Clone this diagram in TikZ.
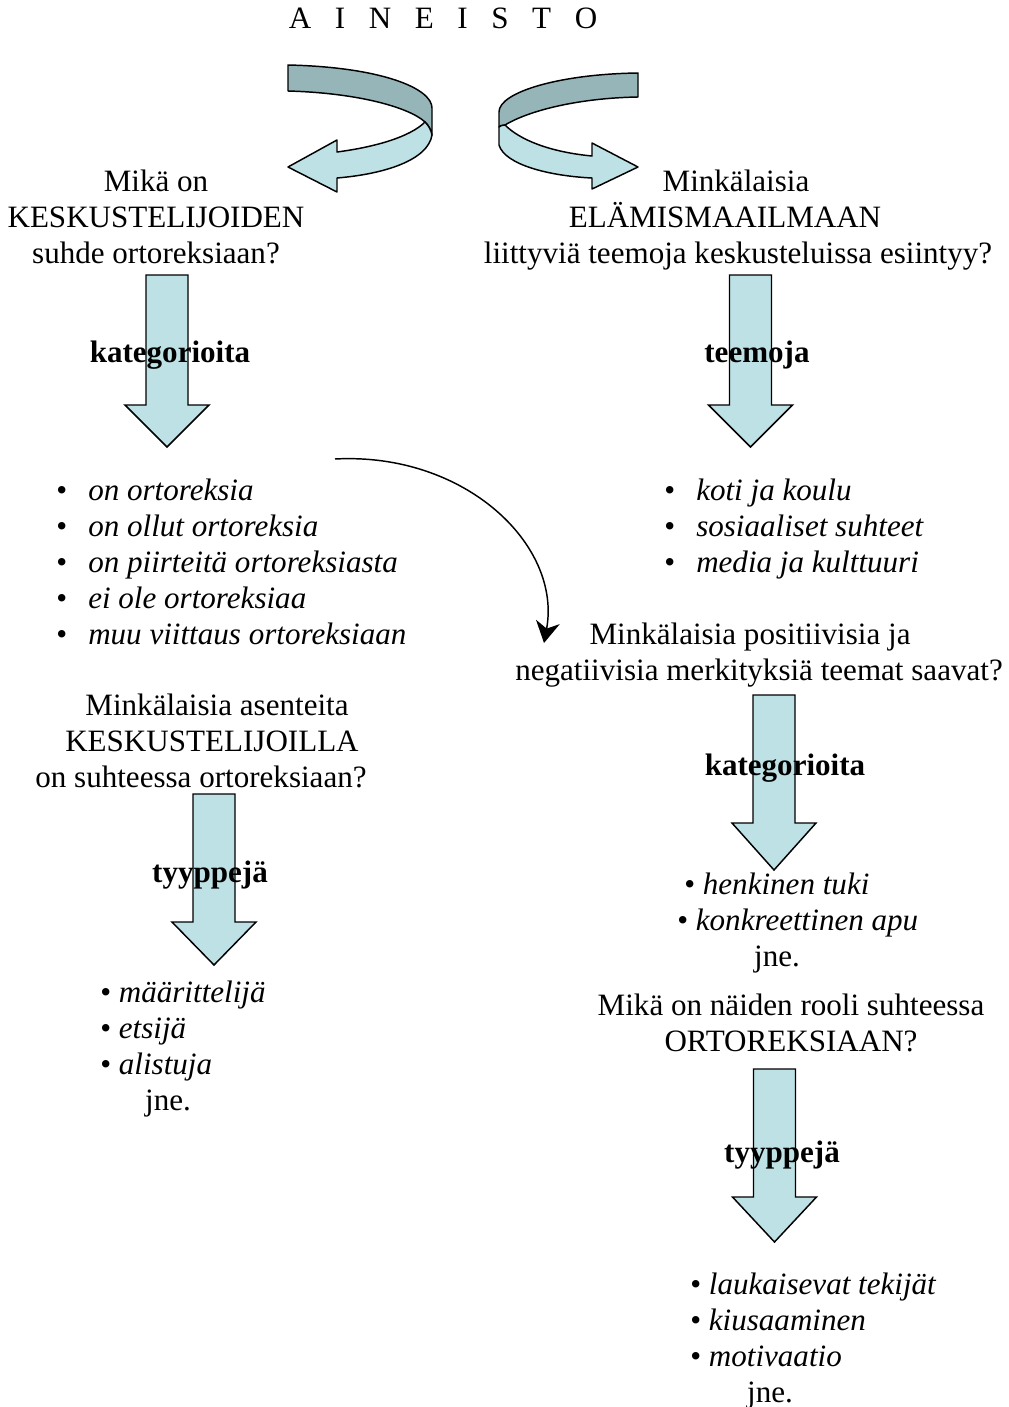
\documentclass[tikz,border=0pt]{standalone}
\usepackage{fontspec}
\setmainfont{Liberation Serif}
\usetikzlibrary{arrows.meta}
\definecolor{lightband}{RGB}{189,225,229}
\definecolor{darkband}{RGB}{150,181,184}
\tikzset{
 txt/.style={anchor=base, inner sep=0pt, font=\fontsize{23.3}{27}\selectfont},
 txtw/.style={txt, anchor=base west},
 lbl/.style={txt, font=\fontsize{23.3}{27}\selectfont\bfseries},
 band/.style={draw=black, line width=1.1pt, line join=round},
 blockarrow/.style={draw=black, line width=1.1pt, fill=lightband, line join=miter},
 link/.style={line width=1.1pt, -{Stealth[length=16pt,width=18pt,inset=5pt,fill=black]}}
}
\newcommand\bul[1]{\makebox[24pt][l]{\textbullet}\textit{#1}}
\newcommand\sbul[1]{\textbullet\ \textit{#1}}
\newcommand\barrow[4]{%
 \draw[blockarrow] (#1-21,#2) -- (#1+21,#2) -- (#1+21,#3) -- (#1+42,#3) -- (#1,#4) -- (#1-42,#3) -- (#1-21,#3) -- cycle;}
\begin{document}
\begin{tikzpicture}[x=0.75pt,y=-0.75pt]
\useasboundingbox (0,0) rectangle (1009,1407);
\fill[white] (0,0) rectangle (1009,1407);

% ribbon arrows
\draw[band, fill=darkband] (288,65) .. controls (380,67) and (432,88) .. (432,108) -- (432,135)
  .. controls (431,130) and (429,126) .. (425,122) .. controls (410,108) and (360,93) .. (288,91) -- cycle;
\draw[band, fill=lightband] (432,135) .. controls (428,160) and (385,174) .. (337,178) -- (337,192) -- (288,167) -- (337,140) -- (337,152)
  .. controls (375,147) and (410,137) .. (425,122) .. controls (429,126) and (431,130) .. (432,135) -- cycle;

\draw[band, fill=darkband] (638,73) .. controls (560,74) and (499,92) .. (499,112) -- (499,127)
  .. controls (500,126) and (502,125) .. (505,125) .. controls (530,110) and (580,98) .. (638,97) -- cycle;
\draw[band, fill=lightband] (499,127) -- (499,145) .. controls (505,165) and (550,176) .. (592,178) -- (592,189) -- (638,167) -- (592,143) -- (592,156)
  .. controls (550,152) and (520,140) .. (505,125) .. controls (502,125) and (500,126) .. (499,127) -- cycle;

% block arrows
\barrow{167}{275}{405}{447}
\barrow{750.5}{275}{405}{447}
\barrow{774}{695}{823}{870}
\barrow{214}{794}{922}{965}
\barrow{774.5}{1069}{1197}{1242}

% curved connector
\coordinate (cstart) at (335,459);
\coordinate (cend) at (544,643);
\draw[link] (cstart) .. controls (465,452) and (562,545) .. (cend);

% title
\node[txt] (title) at (443,28) {A\hspace{17.7pt}I\hspace{17.7pt}N\hspace{17.7pt}E\hspace{17.7pt}I\hspace{17.7pt}S\hspace{17.7pt}T\hspace{17.7pt}O};

% left question
\node[txt] (lq1) at (156,191) {Mikä on};
\node[txt] (lq2) at (156,227) {KESKUSTELIJOIDEN};
\node[txt] (lq3) at (156,263) {suhde ortoreksiaan?};
% right question
\node[txt] (rq1) at (736,191) {Minkälaisia};
\node[txt] (rq2) at (725,227) {ELÄMISMAAILMAAN};
\node[txt] (rq3) at (738,263) {liittyviä teemoja keskusteluissa esiintyy?};

\node[lbl] (kat1) at (170,362) {kategorioita};
\node[lbl] (teem) at (757,362) {teemoja};

% left list
\node[txtw] (l1) at (56,500) {\bul{on ortoreksia}};
\node[txtw] (l2) at (56,536) {\bul{on ollut ortoreksia}};
\node[txtw] (l3) at (56,572) {\bul{on piirteitä ortoreksiasta}};
\node[txtw] (l4) at (56,608) {\bul{ei ole ortoreksiaa}};
\node[txtw] (l5) at (56,644) {\bul{muu viittaus ortoreksiaan}};

% right list
\node[txtw] (r1) at (664,500) {\bul{koti ja koulu}};
\node[txtw] (r2) at (664,536) {\bul{sosiaaliset suhteet}};
\node[txtw] (r3) at (664,572) {\bul{media ja kulttuuri}};

% middle right question
\node[txt] (mq1) at (750,644) {Minkälaisia positiivisia ja};
\node[txt] (mq2) at (759,680) {negatiivisia merkityksiä teemat saavat?};
\node[lbl] (kat2) at (785,775) {kategorioita};
\node[txtw] (m1) at (684,894) {\sbul{henkinen tuki}};
\node[txtw] (m2) at (677,930) {\sbul{konkreettinen apu}};
\node[txt] (mj) at (777,966) {jne.};

\node[txt] (nq1) at (791,1015) {Mikä on näiden rooli suhteessa};
\node[txt] (nq2) at (791,1051) {ORTOREKSIAAN?};
\node[lbl] (tyy2) at (782,1162) {tyyppejä};
\node[txtw] (n1) at (690,1294) {\sbul{laukaisevat tekijät}};
\node[txtw] (n2) at (690,1330) {\sbul{kiusaaminen}};
\node[txtw] (n3) at (690,1366) {\sbul{motivaatio}};
\node[txt] (nj) at (770,1402) {jne.};

% left lower
\node[txt] (aq1) at (217,715) {Minkälaisia asenteita};
\node[txt] (aq2) at (212,751) {KESKUSTELIJOILLA};
\node[txt] (aq3) at (201,787) {on suhteessa ortoreksiaan?};
\node[lbl] (tyy1) at (210,882) {tyyppejä};
\node[txtw] (a1) at (100,1002) {\sbul{määrittelijä}};
\node[txtw] (a2) at (100,1038) {\sbul{etsijä}};
\node[txtw] (a3) at (100,1074) {\sbul{alistuja}};
\node[txt] (aj) at (168,1110) {jne.};
\end{tikzpicture}
\end{document}
